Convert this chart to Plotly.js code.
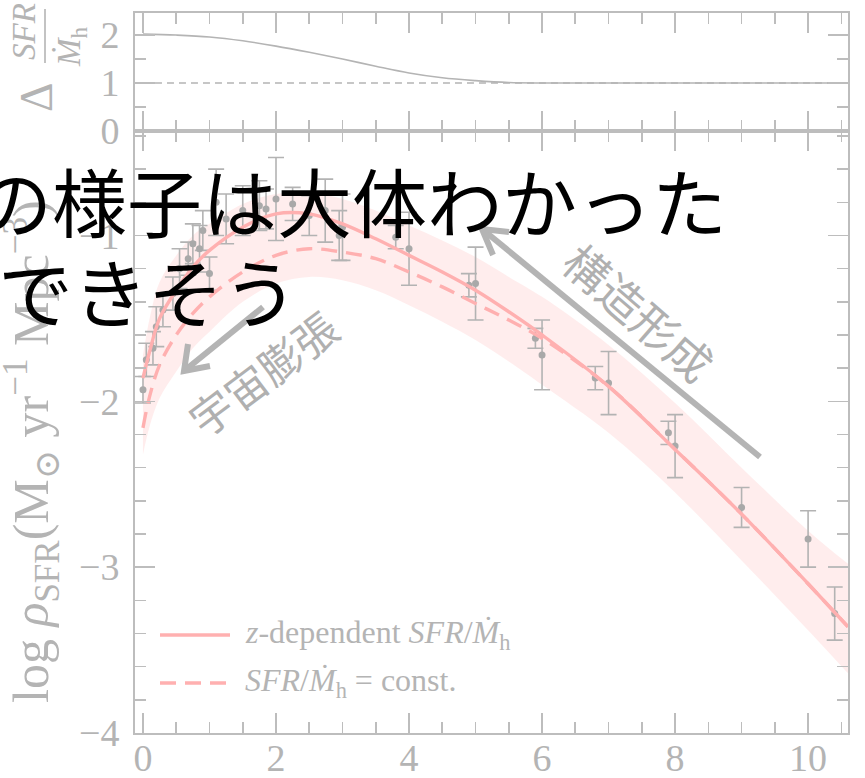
<!DOCTYPE html>
<html>
<head>
<meta charset="utf-8">
<script src="https://cdn.plot.ly/plotly-3.0.1.min.js"></script>
<style>html,body{margin:0;padding:0;background:#fff;}#chart{width:865px;height:778px;}</style>
</head>
<body>
<div id="chart"></div>
<script>
// ---- data ----
const zCurve = [0, 0.1, 0.25, 0.5, 0.75, 1, 1.5, 2, 2.5, 3, 3.5, 4, 4.5, 5, 5.5, 6, 7, 8, 9, 10, 10.6];
const logSFRDz = [-1.86, -1.70, -1.50, -1.33, -1.19, -1.09, -0.95, -0.87, -0.87, -0.93, -1.02, -1.12, -1.22, -1.33, -1.46, -1.60, -1.91, -2.29, -2.68, -3.10, -3.36];
const logSFRDconst = [-2.16, -1.97, -1.78, -1.60, -1.47, -1.37, -1.22, -1.12, -1.08, -1.10, -1.14, -1.22, -1.31, -1.41, -1.51, -1.62, -1.91, -2.29, -2.68, -3.10, -3.36];
const bandUpper = [-1.72, -1.50, -1.28, -1.12, -1.00, -0.93, -0.81, -0.75, -0.74, -0.78, -0.85, -0.94, -1.03, -1.13, -1.25, -1.37, -1.66, -2.01, -2.40, -2.78, -2.98];
const bandLower = [-2.32, -2.15, -1.98, -1.82, -1.68, -1.58, -1.40, -1.29, -1.25, -1.27, -1.33, -1.42, -1.52, -1.63, -1.76, -1.90, -2.19, -2.55, -2.96, -3.38, -3.64];

const zObs   = [0.0, 0.05, 0.15, 0.2, 0.3, 0.45, 0.55, 0.68, 0.75, 0.85, 0.9, 1.0, 1.1, 1.25, 1.5, 1.75, 1.85, 2.0, 2.25, 2.5, 2.74, 2.95, 3.0, 3.8, 4.0, 4.9, 5.0, 5.9, 6.0, 6.8, 7.0, 7.9, 8.0, 9.0, 10.0, 10.4];
const yObs   = [-1.93, -1.75, -1.68, -1.55, -1.45, -1.35, -1.20, -1.14, -1.05, -1.08, -0.97, -1.23, -0.80, -0.90, -0.85, -0.82, -0.84, -0.78, -0.81, -0.88, -0.85, -1.00, -0.95, -1.01, -1.08, -1.30, -1.29, -1.62, -1.72, -1.86, -1.89, -2.19, -2.27, -2.64, -2.83, -3.28];
const errObs = [0.08, 0.10, 0.10, 0.12, 0.10, 0.10, 0.12, 0.10, 0.12, 0.14, 0.12, 0.10, 0.20, 0.15, 0.15, 0.15, 0.12, 0.25, 0.10, 0.12, 0.19, 0.15, 0.20, 0.07, 0.22, 0.07, 0.22, 0.06, 0.21, 0.07, 0.19, 0.07, 0.19, 0.12, 0.17, 0.16];

const zRatio = [0, 0.5, 1, 1.5, 2, 2.5, 3, 3.5, 4, 4.5, 5, 5.5, 6, 7, 8, 9, 10, 10.6];
const ratio  = [2.02, 2.00, 1.96, 1.88, 1.77, 1.64, 1.50, 1.35, 1.21, 1.11, 1.05, 1.01, 1.00, 1.00, 1.00, 1.00, 1.00, 1.00];
const ratioConst = zRatio.map(() => 1);

const xTicks = [0, 2, 4, 6, 8, 10];
const legendLabels = ['<i>z</i>-dependent <i>SFR</i>/<i>Ṁ</i><sub>h</sub>', '<i>SFR</i>/<i>Ṁ</i><sub>h</sub> = const.'];

// ---- style ----
const GRAY = '#b4b4b4';
const AX = '#bdbdbd';
const PINK = '#ffb0b0';
const BAND = 'rgba(255,215,215,0.45)';
const SERIF = 'Liberation Serif, DejaVu Serif, serif';
const JP = 'Noto Sans CJK JP, sans-serif';

// geometry
const W = 865, H = 778, ML = 135, MR = 17, MT = 13, MB = 45;
const xRange = [-0.12, 10.6], yRange = [-4, -0.37], y2Range = [0, 2.46];
const mainTop = 1 - (131 - MT) / (H - MT - MB);
const PW = W - ML - MR, PH = H - MT - MB;
const yMainPx = [131, 733];
// pixel -> coordinate helpers for decorations
const px2x = px => xRange[0] + (px - ML) / PW * (xRange[1] - xRange[0]);
const py2y = py => yRange[0] + (yMainPx[1] - py) / (yMainPx[1] - yMainPx[0]) * (yRange[1] - yRange[0]);
const pxp = px => (px - ML) / PW;
const pyp = py => 1 - (py - MT) / PH;

const traces = [
  {x: zCurve, y: bandLower, mode: 'lines', line: {width: 0, shape: 'spline'}, hoverinfo: 'skip', showlegend: false, xaxis: 'x', yaxis: 'y'},
  {x: zCurve, y: bandUpper, mode: 'lines', line: {width: 0, shape: 'spline'}, fill: 'tonexty', fillcolor: BAND, hoverinfo: 'skip', showlegend: false, xaxis: 'x', yaxis: 'y'},
  {x: zObs, y: yObs, mode: 'markers', marker: {color: '#a9a9a9', size: 7},
   error_y: {type: 'data', array: errObs, color: '#b3b3b3', thickness: 1.6, width: 8},
   showlegend: false, xaxis: 'x', yaxis: 'y'},
  {x: zCurve, y: logSFRDconst, mode: 'lines', line: {color: PINK, width: 3.4, dash: '16px,9px', shape: 'spline'}, name: legendLabels[1], xaxis: 'x', yaxis: 'y'},
  {x: zCurve, y: logSFRDz, mode: 'lines', line: {color: PINK, width: 3.4, shape: 'spline'}, name: legendLabels[0], xaxis: 'x', yaxis: 'y'},
  {x: zRatio, y: ratioConst, mode: 'lines', line: {color: GRAY, width: 1.6, dash: '7px,5px'}, showlegend: false, xaxis: 'x2', yaxis: 'y2'},
  {x: zRatio, y: ratio, mode: 'lines', line: {color: GRAY, width: 1.6, shape: 'spline'}, showlegend: false, xaxis: 'x2', yaxis: 'y2'}
];

const axisCommon = {
  showline: true, linecolor: AX, linewidth: 2, mirror: 'allticks',
  ticks: 'inside', ticklen: 20, tickwidth: 1.6, tickcolor: AX,
  showgrid: false, zeroline: false,
  tickfont: {family: SERIF, size: 38, color: GRAY}
};

const arrowLine = {color: GRAY, width: 6};
function arrowShapes(tail, tip, arm1, arm2) {
  return [
    {type: 'line', xref: 'x', yref: 'y', x0: px2x(tail[0]), y0: py2y(tail[1]), x1: px2x(tip[0]), y1: py2y(tip[1]), line: arrowLine},
    {type: 'path', xref: 'x', yref: 'y',
     path: `M${px2x(arm1[0])},${py2y(arm1[1])} L${px2x(tip[0])},${py2y(tip[1])} L${px2x(arm2[0])},${py2y(arm2[1])}`,
     line: arrowLine}
  ];
}

const shapes = [
  ...arrowShapes([263, 307], [184, 371], [210, 366], [188, 344]),
  ...arrowShapes([760, 457], [482, 229], [493, 255], [509, 232]),
  // legend samples
  {type: 'line', xref: 'paper', yref: 'paper', x0: pxp(160), x1: pxp(230), y0: pyp(635), y1: pyp(635), line: {color: PINK, width: 3.4}},
  {type: 'line', xref: 'paper', yref: 'paper', x0: pxp(160), x1: pxp(230), y0: pyp(683), y1: pyp(683), line: {color: PINK, width: 3.4, dash: '16px,9px'}},
  // fraction bar of top-panel label
  {type: 'line', xref: 'paper', yref: 'paper', x0: pxp(45), x1: pxp(45), y0: pyp(9), y1: pyp(63), line: {color: GRAY, width: 1.6}}
];

const ann = (o) => Object.assign({xref: 'paper', yref: 'paper', showarrow: false, xanchor: 'center', yanchor: 'middle'}, o);
const annotations = [
  // axis titles
  ann({x: pxp(31), y: pyp(452), textangle: -90, text: 'log <i>ρ</i><sub>SFR</sub>(M<sub>⊙</sub> yr<sup>−1</sup> Mpc<sup>−3</sup>)', font: {family: SERIF, size: 50, color: GRAY}}),
  ann({x: pxp(36), y: pyp(97), textangle: -90, text: 'Δ', font: {family: SERIF, size: 46, color: GRAY}}),
  ann({x: pxp(24), y: pyp(32), textangle: -90, text: '<i>SFR</i>', font: {family: SERIF, size: 33, color: GRAY}}),
  ann({x: pxp(71), y: pyp(47), textangle: -90, text: '<i>Ṁ</i><sub>h</sub>', font: {family: SERIF, size: 33, color: GRAY}}),
  // legend texts
  ann({x: pxp(243), y: pyp(634), xanchor: 'left', text: legendLabels[0], font: {family: SERIF, size: 32, color: GRAY}}),
  ann({x: pxp(243), y: pyp(682), xanchor: 'left', text: legendLabels[1], font: {family: SERIF, size: 32, color: GRAY}}),
  // rotated gray labels
  ann({x: pxp(262), y: pyp(372), textangle: -37, text: '宇宙膨張', font: {family: JP, size: 43, color: '#b0b0b0'}}),
  ann({x: pxp(640), y: pyp(311), textangle: 41, text: '構造形成', font: {family: JP, size: 45, color: '#b0b0b0'}}),
  // black overlay text
  ann({x: pxp(352), y: pyp(200), text: 'の様子は大体わかった', font: {family: JP, size: 75, color: '#000'}}),
  ann({x: pxp(148), y: pyp(289), text: 'できそう', font: {family: JP, size: 75, color: '#000'}})
];

const layout = {
  width: W, height: H,
  margin: {l: ML, r: MR, t: MT, b: MB},
  paper_bgcolor: '#fff', plot_bgcolor: '#fff',
  showlegend: false,
  xaxis: Object.assign({}, axisCommon, {domain: [0, 1], anchor: 'y', range: xRange, tickvals: xTicks, ticklabelstandoff: -10,
    minor: {dtick: 0.5, tick0: 0, ticks: 'inside', ticklen: 11, tickwidth: 1.6, tickcolor: AX}}),
  xaxis2: Object.assign({}, axisCommon, {domain: [0, 1], anchor: 'y2', range: xRange, tickvals: xTicks, showticklabels: false, matches: 'x',
    minor: {dtick: 0.5, tick0: 0, ticks: 'inside', ticklen: 11, tickwidth: 1.6, tickcolor: AX}}),
  yaxis: Object.assign({}, axisCommon, {domain: [0, mainTop], anchor: 'x', range: yRange, tickvals: [-4, -3, -2, -1], ticklabelstandoff: 6,
    minor: {dtick: 0.2, tick0: 0, ticks: 'inside', ticklen: 11, tickwidth: 1.6, tickcolor: AX}}),
  yaxis2: Object.assign({}, axisCommon, {domain: [mainTop, 1], anchor: 'x2', range: y2Range, tickvals: [0, 1, 2], ticklabelstandoff: 6,
    minor: {dtick: 0.5, tick0: 0, ticks: 'inside', ticklen: 11, tickwidth: 1.6, tickcolor: AX}}),
  shapes: shapes,
  annotations: annotations
};

Plotly.newPlot('chart', traces, layout, {displayModeBar: false, staticPlot: true});
</script>
</body>
</html>
